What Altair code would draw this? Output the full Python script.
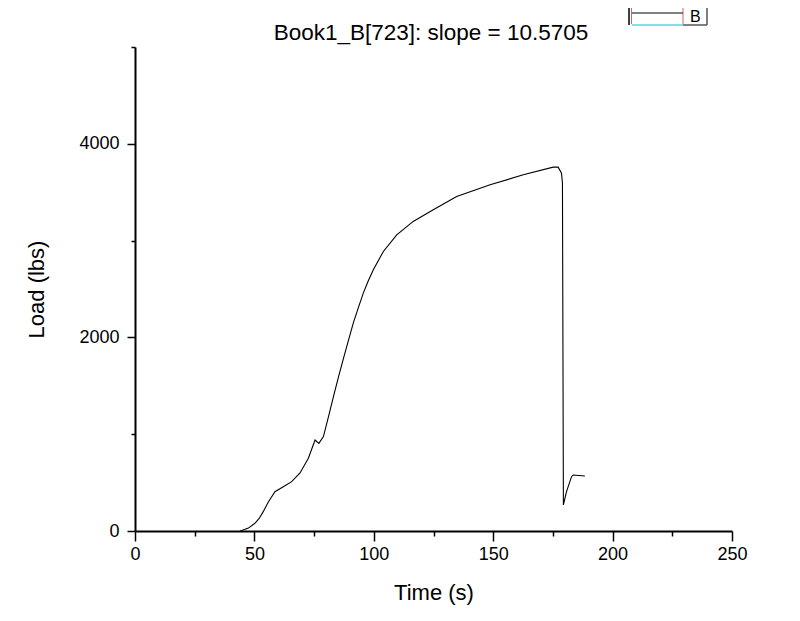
import altair as alt
import pandas as pd

# Load curve
time_s = [44.0, 44.7, 47.5, 50.2, 52.0, 53.7, 55.9, 58.6, 62.1, 65.6, 69.1, 72.6, 75.4,
          77.0, 78.9, 81.0, 83.1, 85.3, 87.5, 89.5, 91.4, 93.5, 95.6, 97.7, 99.8, 104.0,
          109.6, 116.5, 124.9, 134.7, 148.7, 162.6, 175.1, 177.2, 178.6, 179.0, 179.4,
          180.7, 182.8, 183.5, 188.4]
load_lbs = [0, 5, 30, 80, 130, 200, 303, 406, 458, 510, 600, 751, 940,
            905, 975, 1180, 1388, 1600, 1802, 1980, 2147, 2305, 2457, 2585, 2698, 2888,
            3060, 3198, 3318, 3456, 3576, 3680, 3759, 3759, 3697, 3594, 269,
            406, 561, 579, 568]

x_ticks = [0, 25, 50, 75, 100, 125, 150, 175, 200, 225, 250]
y_ticks = [0, 1000, 2000, 3000, 4000, 5000]

title_text = "Book1_B[723]: slope = 10.5705"
legend_label = "B"

df = pd.DataFrame({"t": time_s, "L": load_lbs, "order": list(range(len(time_s)))})

FONT = "Liberation Sans"

x_axis = alt.Axis(
    values=x_ticks, format="d",
    labelExpr="datum.value % 50 === 0 ? datum.label : ''",
    tickSize={"condition": {"test": "datum.value % 50 === 0", "value": 10}, "value": 5},
    tickColor="black", tickWidth=1.5, domainColor="black", domainWidth=2,
    labelFont=FONT, labelFontSize=18, labelColor="black", labelPadding=4,
    titleFont=FONT, titleFontSize=22, titleFontWeight="normal", titleColor="black",
    titlePadding=19, grid=False, labelFlush=False,
)
y_axis = alt.Axis(
    values=y_ticks, format="d",
    labelExpr="datum.value % 2000 === 0 ? datum.label : ''",
    tickSize={"condition": {"test": "datum.value % 2000 === 0", "value": 8}, "value": 4},
    tickColor="black", tickWidth=1.5, domainColor="black", domainWidth=2,
    labelFont=FONT, labelFontSize=18, labelColor="black", labelPadding=8,
    titleFont=FONT, titleFontSize=22, titleFontWeight="normal", titleColor="black",
    titlePadding=30, grid=False, labelFlush=False,
)

line = alt.Chart(df).mark_line(color="black", strokeWidth=1.1).encode(
    x=alt.X("t:Q", title="Time (s)", scale=alt.Scale(domain=[0, 250], nice=False), axis=x_axis),
    y=alt.Y("L:Q", title="Load (lbs)", scale=alt.Scale(domain=[0, 5000], nice=False), axis=y_axis),
    order="order:Q",
)

src = alt.Chart(pd.DataFrame({"k": [0]}))

# Title drawn as a text mark so it stays inside the page
title = src.mark_text(font=FONT, fontSize=22.5, color="black", align="center",
                      baseline="alphabetic").encode(
    x=alt.value(296), y=alt.value(-7), text=alt.value(title_text))

# Legend box (partially cut at the top of the figure)
leg_left = src.mark_rule(color="black", strokeWidth=1.5).encode(
    x=alt.value(494), y=alt.value(-40), y2=alt.value(-22))
leg_red1 = src.mark_rule(color="#e06060", strokeWidth=1).encode(
    x=alt.value(496.5), y=alt.value(-40), y2=alt.value(-23))
leg_red2 = src.mark_rule(color="#e06060", strokeWidth=1).encode(
    x=alt.value(548), y=alt.value(-40), y2=alt.value(-23))
leg_black = src.mark_rule(color="black", strokeWidth=1).encode(
    x=alt.value(497), x2=alt.value(548), y=alt.value(-34))
leg_cyan = src.mark_rule(color="#80e0e8", strokeWidth=2).encode(
    x=alt.value(497), x2=alt.value(548), y=alt.value(-22))
leg_bottom = src.mark_rule(color="#555555", strokeWidth=1.5).encode(
    x=alt.value(548), x2=alt.value(572), y=alt.value(-22))
leg_right = src.mark_rule(color="#555555", strokeWidth=1.5).encode(
    x=alt.value(572), y=alt.value(-40), y2=alt.value(-22))
leg_text = src.mark_text(font=FONT, fontSize=16, color="black", align="left",
                         baseline="alphabetic").encode(
    x=alt.value(555), y=alt.value(-25), text=alt.value(legend_label))

chart = alt.layer(
    line, title, leg_left, leg_red1, leg_red2, leg_black, leg_cyan, leg_bottom,
    leg_right, leg_text
).properties(
    width=597, height=484,
    padding={"left": 127, "top": 39, "right": 60, "bottom": 74},
    autosize=alt.AutoSizeParams(type="none"),
    background="white",
).configure_view(strokeWidth=0)

chart.save("out.html", embed_options={"renderer": "svg", "actions": False})
